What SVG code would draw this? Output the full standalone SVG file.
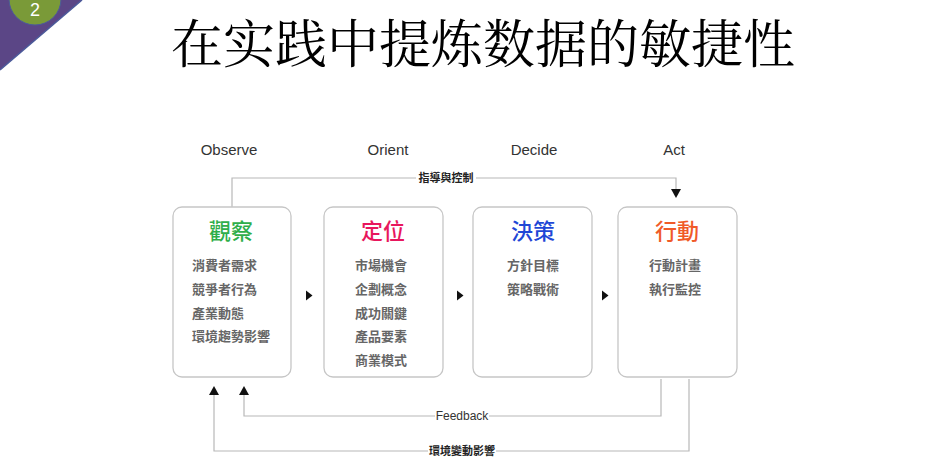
<svg xmlns="http://www.w3.org/2000/svg" width="942" height="469" viewBox="0 0 942 469">
<style>
.box{fill:#fff;stroke:#c6c6c6;stroke-width:1.3}
.hdr{font-family:"Liberation Sans",Arial,sans-serif;font-size:15px;fill:#333;text-anchor:middle}
.ttl{font-family:"Noto Sans CJK TC","Noto Sans CJK SC",sans-serif;font-size:22px;text-anchor:middle;font-weight:500}
.item{font-family:"Noto Sans CJK TC","Noto Sans CJK SC",sans-serif;font-size:13px;fill:#666;font-weight:700}
.lbl{font-family:"Noto Sans CJK TC","Noto Sans CJK SC",sans-serif;font-size:11px;fill:#222;font-weight:700;text-anchor:middle}
.lblen{font-family:"Liberation Sans",Arial,sans-serif;font-size:12px;fill:#333;text-anchor:middle}
.ln{fill:none;stroke:#b8b8b8;stroke-width:1.2}
.ah{fill:#111}
</style>
<rect width="942" height="469" fill="#fff"/>
<g id="corner">
<polygon points="0,0 82,0 0,70" fill="#5b4686"/>
<line x1="82" y1="0" x2="0" y2="70" stroke="#4b5a9a" stroke-width="1.5"/>
<circle cx="35" cy="-1" r="26" fill="#7a9a38" stroke="#4b5a9a" stroke-width="1"/>
<text x="35" y="16" font-family="Liberation Sans,Arial,sans-serif" font-size="18" fill="#fff" text-anchor="middle">2</text>
</g>
<text id="title" x="483" y="63" font-family="'Noto Serif CJK SC','Noto Sans CJK SC',serif" font-size="52" fill="#000" text-anchor="middle">在实践中提炼数据的敏捷性</text>
<g id="headers">
<text class="hdr" x="229" y="155">Observe</text>
<text class="hdr" x="388" y="155">Orient</text>
<text class="hdr" x="534" y="155">Decide</text>
<text class="hdr" x="674" y="155">Act</text>
</g>
<g id="connectors">
<path class="ln" d="M232 207 V178 H676 V189"/>
<polygon class="ah" points="671,189 681,189 676,198"/>
<rect x="416" y="171" width="60" height="14" fill="#fff"/>
<text class="lbl" x="446" y="182">指導與控制</text>
<polygon class="ah" points="306,290.5 306,300.5 312.5,295.5"/>
<polygon class="ah" points="457,290.5 457,300.5 463.5,295.5"/>
<polygon class="ah" points="602,290.5 602,300.5 608.5,295.5"/>
<path class="ln" d="M661 379 V416 H244 V395"/>
<polygon class="ah" points="239,395 249,395 244,386"/>
<path class="ln" d="M689 379 V451 H214 V395"/>
<polygon class="ah" points="209,395 219,395 214,386"/>
<rect x="435" y="409" width="54" height="14" fill="#fff"/>
<text class="lblen" x="462" y="420">Feedback</text>
<rect x="428" y="444" width="68" height="14" fill="#fff"/>
<text class="lbl" x="462" y="455">環境變動影響</text>
</g>
<g id="observe">
<rect class="box" x="173" y="207" width="118" height="170" rx="9"/>
<text class="ttl" x="231" y="239" fill="#2fae4a">觀察</text>
<text class="item" x="192" y="270">消費者需求</text>
<text class="item" x="192" y="294">競爭者行為</text>
<text class="item" x="192" y="317.5">產業動態</text>
<text class="item" x="192" y="341">環境趨勢影響</text>
</g>
<g id="orient">
<rect class="box" x="324" y="207" width="119" height="170" rx="9"/>
<text class="ttl" x="383" y="239" fill="#e8175d">定位</text>
<text class="item" x="355" y="270">市場機會</text>
<text class="item" x="355" y="294">企劃概念</text>
<text class="item" x="355" y="317.5">成功關鍵</text>
<text class="item" x="355" y="341">產品要素</text>
<text class="item" x="355" y="365">商業模式</text>
</g>
<g id="decide">
<rect class="box" x="473" y="207" width="119" height="170" rx="9"/>
<text class="ttl" x="533" y="239" fill="#1f47d6">決策</text>
<text class="item" x="507" y="270">方針目標</text>
<text class="item" x="507" y="294">策略戰術</text>
</g>
<g id="act">
<rect class="box" x="618" y="207" width="119" height="170" rx="9"/>
<text class="ttl" x="677" y="239" fill="#f05a28">行動</text>
<text class="item" x="649" y="270">行動計畫</text>
<text class="item" x="649" y="294">執行監控</text>
</g>
</svg>
